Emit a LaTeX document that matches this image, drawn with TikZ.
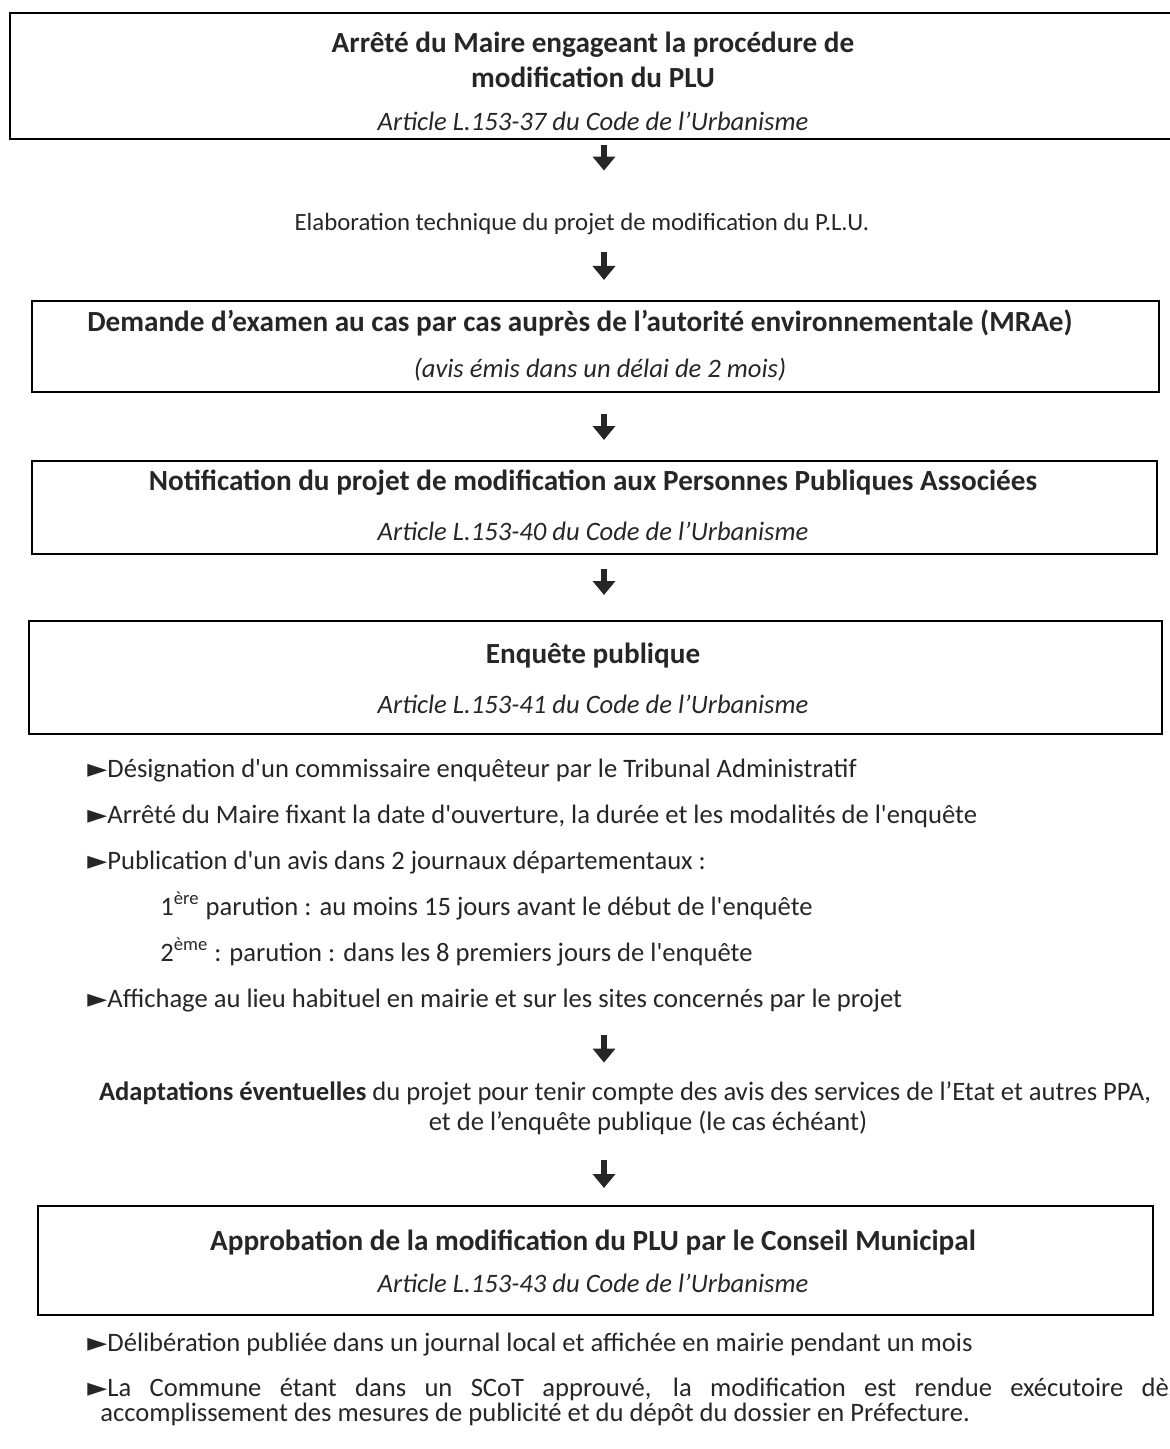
\documentclass[tikz,border=0pt]{standalone}
\usepackage{fontspec}
\newfontfamily\calibri{Carlito}
\newfontfamily\symb{DejaVu Sans}
\usetikzlibrary{arrows.meta}

\newcommand\bul{{\symb\fontsize{13}{13}\selectfont ►}}

\tikzset{
  stepframe/.style={draw, line width=1.15pt, rectangle, inner sep=0pt, anchor=north west},
  headtext/.style={anchor=base, inner sep=0pt, text height=10.5pt, text depth=3.5pt, text=black!85,
    font=\calibri\fontsize{14.6}{17.5}\selectfont\bfseries},
  reftext/.style={anchor=base, inner sep=0pt, text height=9.5pt, text depth=3pt, text=black!85,
    font=\calibri\fontsize{13.3}{16}\selectfont\itshape},
  bodytext/.style={anchor=base, inner sep=0pt, text height=9.5pt, text depth=3pt, text=black!85,
    font=\calibri\fontsize{13.3}{16}\selectfont},
  itemtext/.style={bodytext, anchor=base west},
  downarrow/.style={line width=3pt, black!85, -{Triangle[length=7pt,width=11pt]}},
}

\begin{document}
\begin{tikzpicture}[x=0.5pt, y=-0.5pt]

\useasboundingbox (0,0) rectangle (1169,1449);
\coordinate (spine) at (604,0);

% BOX 1
\node[stepframe, minimum width=588pt, minimum height=63pt] (arrete) at (9,12) {};
\node[headtext] (arrete1) at (593,53) {Arrêté du Maire engageant la procédure de};
\node[headtext] (arrete2) at (593,88) {modification du PLU};
\node[reftext] (arrete3) at (593,131) {Article L.153-37 du Code de l’Urbanisme};

% ELABORATION
\node[bodytext, font=\calibri\fontsize{12.4}{15}\selectfont] (elab) at (582,231) {Elaboration technique du projet de modification du P.L.U.};

% BOX 2
\node[stepframe, minimum width=563.5pt, minimum height=45.5pt] (mrae) at (31,300) {};
\node[headtext] (mrae1) at (580,331) {Demande d’examen au cas par cas auprès de l’autorité environnementale (MRAe)};
\node[reftext] (mrae2) at (600,378) {(avis émis dans un délai de 2 mois)};

% BOX 3
\node[stepframe, minimum width=562.5pt, minimum height=46.5pt] (ppa) at (31,460) {};
\node[headtext] (ppa1) at (593,490) {Notification du projet de modification aux Personnes Publiques Associées};
\node[reftext] (ppa2) at (593,540) {Article L.153-40 du Code de l’Urbanisme};

% BOX 4
\node[stepframe, minimum width=566.5pt, minimum height=56.5pt] (enq) at (28,620) {};
\node[headtext] (enq1) at (593,663) {Enquête publique};
\node[reftext] (enq2) at (593,713) {Article L.153-41 du Code de l’Urbanisme};

% ENQUETE ITEMS
\node[itemtext] (desig) at (87,777) {\bul Désignation d'un commissaire enquêteur par le Tribunal Administratif};
\node[itemtext] (fixe) at (87,823) {\bul Arrêté du Maire fixant la date d'ouverture, la durée et les modalités de l'enquête};
\node[itemtext] (publi) at (87,869) {\bul Publication d'un avis dans 2 journaux départementaux :};
\node[itemtext] (paru1) at (160,915) {1\textsuperscript{ère} parution : au moins 15 jours avant le début de l'enquête};
\node[itemtext] (paru2) at (160,961) {2\textsuperscript{ème} : parution : dans les 8 premiers jours de l'enquête};
\node[itemtext] (affi) at (87,1007) {\bul Affichage au lieu habituel en mairie et sur les sites concernés par le projet};

% ADAPTATIONS
\node[bodytext] (adapt1) at (625,1100) {\textbf{Adaptations éventuelles} du projet pour tenir compte des avis des services de l’Etat et autres PPA,};
\node[bodytext] (adapt2) at (648,1130) {et de l’enquête publique (le cas échéant)};

% BOX 5
\node[stepframe, minimum width=557.5pt, minimum height=54.5pt] (appro) at (37,1205) {};
\node[headtext] (appro1) at (593,1250) {Approbation de la modification du PLU par le Conseil Municipal};
\node[reftext] (appro2) at (593,1292) {Article L.153-43 du Code de l’Urbanisme};

% APPROBATION ITEMS
\node[itemtext] (delib) at (87,1351) {\bul Délibération publiée dans un journal local et affichée en mairie pendant un mois};
\node[itemtext] (scot) at (87,1396) {\makebox[546pt][s]{\bul La Commune étant dans un SCoT approuvé, la modification est rendue exécutoire dès}};
\node[itemtext] (scot2) at (100,1421) {accomplissement des mesures de publicité et du dépôt du dossier en Préfecture.};

% ARROWS
\draw[downarrow, shorten <=2.5pt, shorten >=20.5pt] (arrete.south -| spine) -- (elab.north -| spine);
\draw[downarrow, shorten <=7.5pt, shorten >=10pt] (elab.south -| spine) -- (mrae.north -| spine);
\draw[downarrow, shorten <=10.5pt, shorten >=10pt] (mrae.south -| spine) -- (ppa.north -| spine);
\draw[downarrow, shorten <=7pt, shorten >=12.5pt] (ppa.south -| spine) -- (enq.north -| spine);
\draw[downarrow, shorten <=11pt, shorten >=9pt] (affi.south -| spine) -- (adapt1.north -| spine);
\draw[downarrow, shorten <=12pt, shorten >=8.5pt] (adapt2.south -| spine) -- (appro.north -| spine);

\end{tikzpicture}
\end{document}
